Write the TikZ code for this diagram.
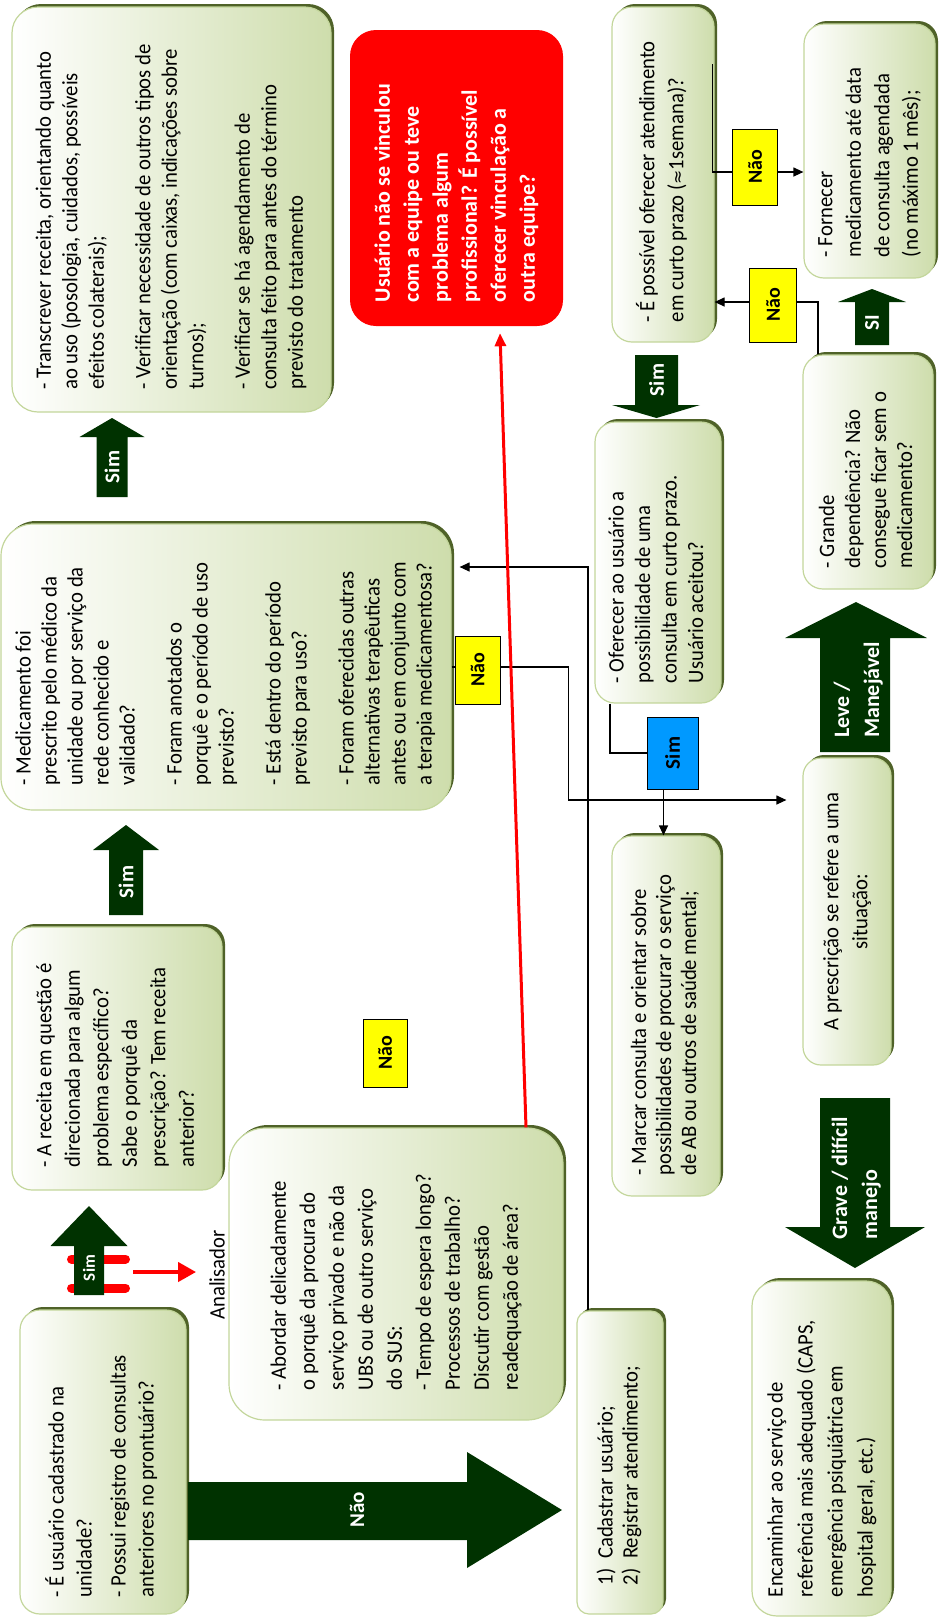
\documentclass[tikz,border=0pt]{standalone}
\usepackage{fontspec}
\setmainfont{Carlito}[UprightFeatures={FakeStretch=0.94}]
\newfontfamily\symfont{DejaVu Sans}
\usepackage{graphicx}
\usetikzlibrary{arrows.meta,shadows,calc}
\definecolor{boxgreen}{RGB}{206,221,172}
\definecolor{boxborder}{RGB}{195,214,155}
\definecolor{shadowgreen}{RGB}{79,98,40}
\definecolor{arrowgreen}{RGB}{0,50,0}
\definecolor{simblue}{RGB}{0,153,255}
\definecolor{naoyellow}{RGB}{255,255,0}
\definecolor{alertred}{RGB}{255,0,0}
\newcommand\rt[3][l]{\rotatebox{90}{\makebox[#2][#1]{\begin{tabular}{@{}#1@{}}#3\end{tabular}}}}
\newcommand\rl[1]{\rotatebox{90}{\begin{tabular}{@{}l@{}}#1\end{tabular}}}
\tikzset{
  gbox/.style={draw=boxborder, line width=1.2pt, rounded corners=20pt,
    left color=white, right color=boxgreen, inner sep=0pt,
    general shadow={fill=shadowgreen, shadow xshift=3pt, shadow yshift=3pt},
    font=\fontsize{22}{26.5}\selectfont},
  redbox/.style={fill=alertred, rounded corners=26pt, inner sep=0pt, text=white,
    font=\bfseries\fontsize{22}{29}\selectfont},
  ylab/.style={draw=black, line width=0.9pt, fill=naoyellow, inner sep=0pt,
    font=\bfseries\fontsize{20}{20}\selectfont},
  blab/.style={draw=black, line width=0.9pt, fill=simblue, inner sep=0pt,
    font=\bfseries\fontsize{21}{21}\selectfont},
  alab/.style={text=white, inner sep=0pt, font=\bfseries\fontsize{21}{29}\selectfont},
  conn/.style={draw=black, line width=1.2pt, -{Triangle[length=10pt,width=9pt]}},
  plainconn/.style={draw=black, line width=1.2pt},
  redconn/.style={draw=alertred, line width=3pt, -{Triangle[length=13pt,width=11pt]}},
  barrow/.style={fill=arrowgreen},
}
\begin{document}
\begin{tikzpicture}[x=1pt,y=-1pt]
\useasboundingbox (0,0) rectangle (945,1623);

% ---------- boxes ----------
\node[gbox, minimum width=166pt, minimum height=304pt, font=\fontsize{22}{28}\selectfont] (A) at (103,1462)
 {\rt{270pt}{- É usuário cadastrado na\\unidade?\\[6pt]- Possui registro de consultas\\anteriores no prontuário?}};
\node[gbox, minimum width=210pt, minimum height=263pt, font=\fontsize{22}{28.5}\selectfont] (B) at (117,1058.5)
 {\rt{217pt}{- A receita em questão é\\direcionada para algum\\problema específico?\\Sabe o porquê da\\prescrição? Tem receita\\anterior?}};
\node[gbox, rounded corners=32pt, minimum width=450pt, minimum height=286pt, font=\fontsize{22}{26}\selectfont] (C) at (226,667)
 {\rt{236pt}{- Medicamento foi\\prescrito pelo médico da\\unidade ou por serviço da\\rede conhecido e\\validado?\\[21pt]- Foram anotados o\\porquê e o período de uso\\previsto?\\[21pt]- Está dentro do período\\previsto para uso?\\[21pt]- Foram oferecidas outras\\alternativas terapêuticas\\antes ou em conjunto com\\a terapia medicamentosa?}};
\node[gbox, rounded corners=26pt, minimum width=319pt, minimum height=405pt] (D) at (171.5,209.5)
 {\rt{360pt}{- Transcrever receita, orientando quanto\\ao uso (posologia, cuidados, possíveis\\efeitos colaterais);\\[20pt]- Verificar necessidade de outros tipos de\\orientação (com caixas, indicações sobre\\turnos);\\[20pt]- Verificar se há agendamento de\\consulta feito para antes do término\\previsto do tratamento}};
\node[redbox, minimum width=213pt, minimum height=296pt] (red) at (456.5,178)
 {\rt{248pt}{Usuário não se vinculou\\com a equipe ou teve\\problema algum\\profissional? É possível\\oferecer vinculação a\\outra equipe?}};
\node[gbox, minimum width=102pt, minimum height=335pt, font=\fontsize{22}{29}\selectfont] (E) at (663,174.5)
 {\rt{295pt}{- É possível oferecer atendimento\\em curto prazo ({\symfont\fontsize{17}{17}\selectfont ≈}1semana)?}};
\node[gbox, minimum width=131pt, minimum height=254pt, font=\fontsize{22}{28.5}\selectfont] (F) at (869.5,151)
 {\rt{212pt}{- Fornecer\\medicamento até data\\de consulta agendada\\(no máximo 1 mês);}};
\node[gbox, minimum width=126pt, minimum height=281pt] (G) at (658,562.5)
 {\rt{241pt}{- Oferecer ao usuário a\\possibilidade de uma\\consulta em curto prazo.\\Usuário aceitou?}};
\node[gbox, minimum width=130pt, minimum height=234pt, font=\fontsize{22}{26}\selectfont] (H) at (868,472)
 {\rt{192pt}{- Grande\\dependência? Não\\consegue ficar sem o\\medicamento?}};
\node[gbox, rounded corners=18pt, minimum width=88pt, minimum height=307pt, font=\fontsize{22}{29}\selectfont] (I) at (847,911.5)
 {\rt[c]{280pt}{A prescrição se refere a uma\\situação:}};
\node[gbox, minimum width=108pt, minimum height=360pt, font=\fontsize{22}{25}\selectfont] (J) at (666,1016)
 {\rt{318pt}{- Marcar consulta e orientar sobre\\possibilidades de procurar o serviço\\de AB ou outros de saúde mental;}};
\node[gbox, rounded corners=36pt, minimum width=334pt, minimum height=292pt, font=\fontsize{22}{29}\selectfont] (K) at (396,1274)
 {\rt{232pt}{- Abordar delicadamente\\o porquê da procura do\\serviço privado e não da\\UBS ou de outro serviço\\do SUS:\\- Tempo de espera longo?\\Processos de trabalho?\\Discutir com gestão\\readequação de área?}};
\node[gbox, rounded corners=12pt, minimum width=86pt, minimum height=303pt, font=\fontsize{22}{25}\selectfont] (L) at (620,1462.5)
 {\rt{245pt}{1)\ \ Cadastrar usuário;\\2)\ \ Registrar atendimento;}};
\node[gbox, rounded corners=25pt, minimum width=139pt, minimum height=335pt, font=\fontsize{22}{30}\selectfont] (M) at (821.5,1448.5)
 {\rt{297pt}{Encaminhar ao serviço de\\referência mais adequado (CAPS,\\emergência psiquiátrica em\\hospital geral, etc.)}};

% ---------- block arrows ----------
\draw[alertred, line width=9pt, line cap=round] (71.5,1259) -- (125.5,1259);
\draw[alertred, line width=9pt, line cap=round] (71.5,1288) -- (125.5,1288);
\fill[barrow] (74,1295) -- (74,1246) -- (50.5,1246) -- (89,1206) -- (127.5,1246) -- (104,1246) -- (104,1295) -- cycle;
\fill[barrow] (109,915) -- (109,850) -- (93,850) -- (126,825) -- (159,850) -- (143,850) -- (143,915) -- cycle;
\fill[barrow] (96.5,497) -- (96.5,437) -- (79.5,437) -- (112,418) -- (144.5,437) -- (127.5,437) -- (127.5,497) -- cycle;
\fill[barrow] (635,355) -- (678,355) -- (678,405) -- (700,405) -- (656.5,418) -- (612,405) -- (635,405) -- cycle;
\fill[barrow] (855,345) -- (855,302) -- (838,302) -- (872,289) -- (906,302) -- (889,302) -- (889,345) -- cycle;
\fill[barrow] (820,752) -- (820,638) -- (785,638) -- (856,602) -- (927,638) -- (890,638) -- (890,752) -- cycle;
\fill[barrow] (820,1098) -- (890,1098) -- (890,1227) -- (925,1227) -- (855,1268) -- (785,1227) -- (820,1227) -- cycle;
\fill[barrow] (188,1482) -- (467,1482) -- (467,1452) -- (562,1510) -- (467,1568) -- (467,1540) -- (188,1540) -- cycle;

\node[alab, font=\bfseries\fontsize{17}{17}\selectfont] (s1) at (89,1268) {\rotatebox{90}{Sim}};
\node[alab] (s2) at (126,882) {\rotatebox{90}{Sim}};
\node[alab] (s3) at (112,467) {\rotatebox{90}{Sim}};
\node[alab] (s4) at (656.5,380) {\rotatebox{90}{Sim}};
\node[alab] (si) at (872,323) {\rotatebox{90}{SI}};
\node[alab, font=\bfseries\fontsize{22}{30}\selectfont] (leve) at (858,690) {\rl{Leve /\\Manejável}};
\node[alab, font=\bfseries\fontsize{22}{30}\selectfont] (grave) at (856,1178) {\rl{Grave / difícil\\manejo}};
\node[alab] (naoA) at (357,1510) {\rotatebox{90}{Não}};

% ---------- Analisador ----------
\node[inner sep=0pt, font=\fontsize{22}{22}\selectfont] (anl) at (217,1275) {\rotatebox{90}{Analisador}};
\coordinate (redstart) at (133,1272);
\draw[alertred, line width=4pt, -{Triangle[length=18pt,width=19pt]}] (redstart) -- ([xshift=-13pt]anl.west |- redstart);

% ---------- Sim (blue) label ----------
\node[blab, minimum width=51pt, minimum height=72pt] (s5) at (672.5,753) {\rotatebox{90}{Sim}};

% ---------- connectors ----------
\draw[conn] ([xshift=-2pt,yshift=-58pt]E.north east) |- ([yshift=-21pt]F.west);
\draw[conn] ([xshift=-50pt]H.north) |- ([yshift=-127.5pt]E.east);
\draw[plainconn] ([xshift=-48pt]G.south) |- (s5.west);
\draw[conn] ([xshift=-9pt]s5.south) -- ([xshift=-9pt]s5.south |- J.north);
\draw[conn] (C.east) -- ++(117,0) |- ([xshift=-16pt,yshift=111.5pt]I.west);
\draw[conn] ([xshift=-32pt]L.north) |- ([xshift=8pt,yshift=100pt]C.east);
\draw[redconn] ([xshift=130pt]K.north) -- ([xshift=43.5pt,yshift=-7pt]red.south);

% ---------- labels ----------
\node[ylab, minimum width=45pt, minimum height=76pt] (n1) at (755,167) {\rotatebox{90}{Não}};
\node[ylab, minimum width=47pt, minimum height=74pt] (n2) at (773,305) {\rotatebox{90}{Não}};
\node[ylab, minimum width=45pt, minimum height=68pt] (n3) at (477.5,670) {\rotatebox{90}{Não}};
\node[ylab, minimum width=44pt, minimum height=68pt] (n4) at (385,1053) {\rotatebox{90}{Não}};
\end{tikzpicture}
\end{document}
